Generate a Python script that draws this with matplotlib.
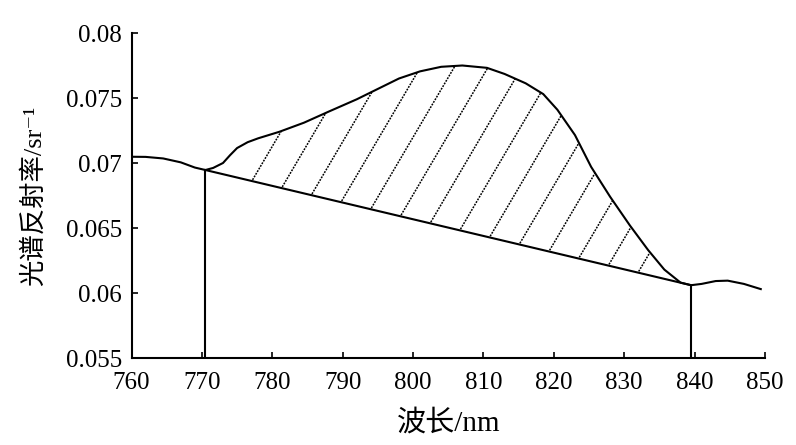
import numpy as np
import matplotlib
matplotlib.use("Agg")
import matplotlib.pyplot as plt
from matplotlib.patches import Polygon

# ---- data ----
wavelength = [760, 762, 764.5, 767, 769, 770.5, 771.6, 773, 774, 775, 776.5,
              778, 781, 784.5, 788, 792, 796.5, 798, 801, 804, 807, 810.5,
              813, 816, 818.5, 820.5, 823, 825.3, 828, 830.8, 833.4, 835.7,
              838, 839.5, 841, 843, 844.7, 847, 849.4]
reflectance = [0.07048, 0.07047, 0.07035, 0.07005, 0.06965, 0.06946, 0.06962,
               0.07000, 0.07060, 0.07115, 0.07160, 0.07190, 0.07240, 0.07310,
               0.07395, 0.07490, 0.07610, 0.07650, 0.07705, 0.07740, 0.07750,
               0.07732, 0.07685, 0.07613, 0.07530, 0.07410, 0.07215, 0.06970,
               0.06740, 0.06520, 0.06330, 0.06180, 0.06080, 0.06060, 0.06070,
               0.06092, 0.06095, 0.06070, 0.06030]
shoulder_x = [770.5, 839.5]          # continuum end points
shoulder_y = [0.06946, 0.06060]

xticks = [760, 770, 780, 790, 800, 810, 820, 830, 840, 850]
yticks = [0.055, 0.06, 0.065, 0.07, 0.075, 0.08]
ytick_labels = ["0.055", "0.06", "0.065", "0.07", "0.075", "0.08"]

latin = ["Liberation Serif", "Noto Sans CJK SC", "DejaVu Serif"]
plt.rcParams["font.family"] = latin

fig = plt.figure(figsize=(7.96, 4.45), dpi=100)
fig.patch.set_facecolor("white")
ax = fig.add_axes([131.5 / 796, 1 - 358 / 445, (765 - 131.5) / 796, (358 - 33) / 445])

x = np.array(wavelength)
y = np.array(reflectance)

# main curve
ax.plot(x, y, color="black", lw=1.5, solid_joinstyle="round")
# continuum line
ax.plot(shoulder_x, shoulder_y, color="black", lw=1.5)
# vertical drops
ax.vlines(shoulder_x, 0.055, shoulder_y, color="black", lw=1.5)

# hatched region between curve and continuum
m = (x >= shoulder_x[0]) & (x <= shoulder_x[1])
poly_pts = list(zip(x[m], y[m])) + [(shoulder_x[0], shoulder_y[0])]
clip = Polygon(poly_pts, closed=True, facecolor="none", edgecolor="none",
               transform=ax.transData)
ax.add_patch(clip)
slope_c = (shoulder_y[1] - shoulder_y[0]) / (shoulder_x[1] - shoulder_x[0])
hatch_slope = 9.2e-4
for xb in np.arange(777.1, 833.0, 4.22):
    yb = shoulder_y[0] + slope_c * (xb - shoulder_x[0])
    xs = np.array([xb - 1, xb + 20])
    ys = yb + hatch_slope * (xs - xb)
    ln, = ax.plot(xs, ys, color="black", lw=1.1, linestyle=(0, (1.2, 0.8)))
    ln.set_clip_path(clip)

ax.set_xlim(760, 850)
ax.set_ylim(0.055, 0.08)
ax.set_xticks(xticks)
ax.set_yticks(yticks)
ax.set_yticklabels(ytick_labels)
ax.tick_params(direction="in", length=4, width=1.2, labelsize=18)
ax.tick_params(axis="x", pad=10)
ax.tick_params(axis="y", pad=7)
for s in ["top", "right"]:
    ax.spines[s].set_visible(False)
for s in ["left", "bottom"]:
    ax.spines[s].set_linewidth(1.5)

ax.set_xlabel("波长/nm", fontsize=21, labelpad=11)
ax.set_ylabel("光谱反射率/sr⁻¹", fontsize=19, labelpad=14)

fig.savefig("out.png", dpi=100, facecolor="white")
